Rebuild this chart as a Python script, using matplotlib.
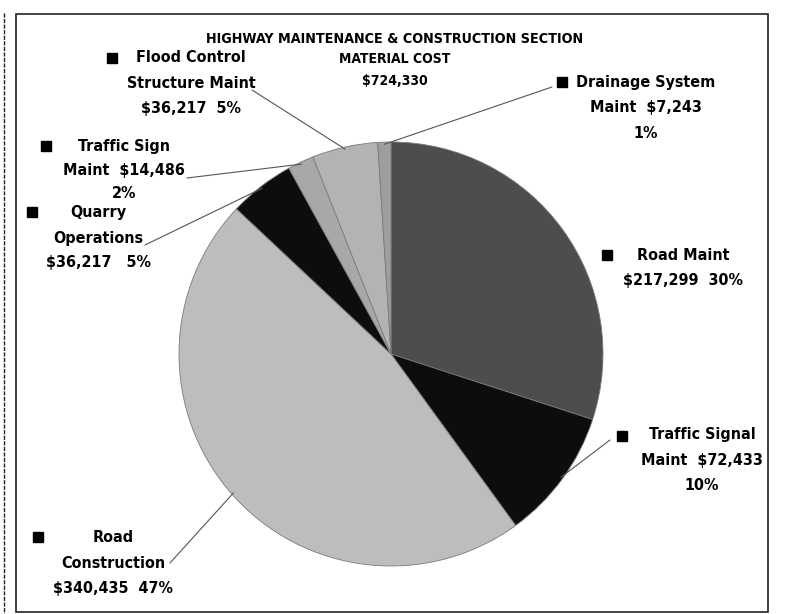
import numpy as np
import matplotlib.pyplot as plt
from matplotlib.patches import ConnectionPatch, Rectangle

# data
categories = ['Road Maint', 'Traffic Signal Maint', 'Road Construction', 'Quarry Operations',
              'Traffic Sign Maint', 'Flood Control Structure Maint', 'Drainage System Maint']
costs = [217299, 72433, 340435, 36217, 14486, 36217, 7243]
pcts = [30, 10, 47, 5, 2, 5, 1]
total_cost = 724330
colors = ['#4d4d4d', '#0d0d0d', '#bdbdbd', '#0d0d0d', '#a8a8a8', '#b3b3b3', '#9e9e9e']

W, H = 785, 614
fig = plt.figure(figsize=(W / 100, H / 100), dpi=100)
plt.rcParams['font.family'] = ['DejaVu Sans']
plt.rcParams['font.stretch'] = 'condensed'

ov = fig.add_axes([0, 0, 1, 1])
ov.set_xlim(0, W)
ov.set_ylim(H, 0)
ov.axis('off')

# pie, centre and radius in pixels
cx, cy, r = 391, 354, 212
ax = fig.add_axes([(cx - r) / W, (H - cy - r) / H, 2 * r / W, 2 * r / H])
wedges, _ = ax.pie(costs, colors=colors, startangle=90, counterclock=False, radius=1,
                   wedgeprops=dict(edgecolor='#7a7a7a', linewidth=0.6))
ax.set_xlim(-1, 1)
ax.set_ylim(-1, 1)
ax.axis('off')

# title
ov.text(395, 39, 'HIGHWAY MAINTENANCE & CONSTRUCTION SECTION', ha='center', va='center',
        fontsize=10.3, fontweight='bold')
ov.text(395, 59, 'MATERIAL COST', ha='center', va='center', fontsize=10, fontweight='bold')
ov.text(395, 81, '${:,}'.format(total_cost), ha='center', va='center', fontsize=10, fontweight='bold')

money = ['${:,}'.format(c) for c in costs]
label_lines = [
    ['Road Maint', '%s  %d%%' % (money[0], pcts[0])],
    ['Traffic Signal', 'Maint  %s' % money[1], '%d%%' % pcts[1]],
    ['Road', 'Construction', '%s  %d%%' % (money[2], pcts[2])],
    ['Quarry', 'Operations', '%s   %d%%' % (money[3], pcts[3])],
    ['Traffic Sign', 'Maint  %s' % money[4], '%d%%' % pcts[4]],
    ['Flood Control', 'Structure Maint', '%s  %d%%' % (money[5], pcts[5])],
    ['Drainage System', 'Maint  %s' % money[6], '%d%%' % pcts[6]],
]
# layout: text centre x, first line y, line step, marker position, leader start
label_x = [683, 702, 113, 98, 124, 191, 646]
label_y = [255, 435, 537, 213, 146, 58, 82]
line_step = [25, 25.5, 26, 25, 24, 25, 25.5]
marker_xy = [(607, 255), (622, 436), (38, 537), (32, 212), (46, 146), (112, 58), (562, 82)]
leader_from = [None, (610, 440), (170, 563), (145, 245), (187, 178), (252, 90), (552, 87)]

for i, lines in enumerate(label_lines):
    for j, t in enumerate(lines):
        ov.text(label_x[i], label_y[i] + j * line_step[i], t, ha='center', va='center',
                fontsize=11.5, fontweight='bold')
    ov.plot(*marker_xy[i], marker='s', ms=7, color='black', ls='none')
    if leader_from[i] is not None:
        w = wedges[i]
        mid = np.deg2rad((w.theta1 + w.theta2) / 2)
        tip = (np.cos(mid) * 0.99, np.sin(mid) * 0.99)
        con = ConnectionPatch(xyA=leader_from[i], coordsA=ov.transData, xyB=tip,
                              coordsB=ax.transData, color='#555555', lw=0.8)
        fig.add_artist(con)

# scanned frame
ov.add_patch(Rectangle((16, 14), 752, 598, fill=False, edgecolor='#222222', lw=1.2))
ov.plot([4, 4], [13, 614], color='#222222', lw=1, ls=(0, (3, 1)))

fig.savefig('out.png', dpi=100, facecolor='white')
